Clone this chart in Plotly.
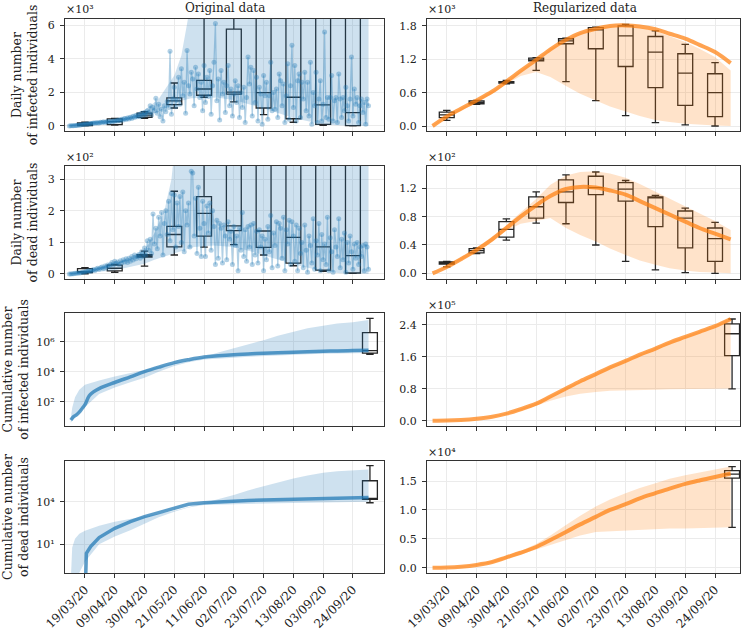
import pandas as pd
import plotly.graph_objects as go

# ---------------- data ----------------
start_date = "2020-03-08"
# daily infected (x10^3), one value per day from 08/03/20
daily_infected_k = [
    0.00, 0.01, 0.01, 0.02, 0.03, 0.03, 0.04,
    0.05, 0.06, 0.08, 0.09, 0.10, 0.11, 0.12,
    0.12, 0.15, 0.14, 0.17, 0.16, 0.19, 0.18,
    0.18, 0.22, 0.20, 0.25, 0.21, 0.24, 0.27,
    0.22, 0.28, 0.25, 0.30, 0.27, 0.33, 0.30,
    0.35, 0.30, 0.40, 0.36, 0.44, 0.38, 0.47,
    0.42, 0.52, 0.45, 0.58, 0.50, 0.62, 0.55,
    0.68, 0.55, 0.75, 0.62, 0.80, 0.65, 0.90,
    0.80, 1.20, 0.65, 1.10, 0.90, 1.65, 0.75,
    1.30, 0.55, 1.00, 0.30, 1.20, 0.85, 1.45,
    1.10, 4.45, 0.70, 1.60, 2.30, 1.15, 1.55,
    2.90, 1.30, 3.40, 1.80, 2.60, 0.75, 4.50,
    2.40, 1.90, 3.20, 2.80, 1.20, 3.50, 2.20,
    3.10, 1.70, 2.60, 0.90, 3.60, 1.40, 2.90,
    1.75, 3.30, 0.70, 2.40, 3.80, 6.10, 1.50,
    2.80, 0.35, 3.30, 1.90, 2.60, 0.80, 2.40,
    3.60, 1.20, 2.20, 0.60, 1.90, 2.70, 1.40,
    2.40, 0.50, 2.00, 1.10, 2.30, 0.20, 1.70,
    4.10, 2.50, 3.50, 0.60, 3.30, 1.40, 2.90,
    0.30, 2.30, 1.90, 0.10, 3.00, 1.80, 2.60,
    0.40, 1.80, 3.80, 0.90, 2.00, 1.00, 2.20,
    0.50, 3.10, 2.70, 1.20, 2.50, 0.20, 1.80,
    3.70, 0.40, 2.40, 4.80, 1.10, 3.60, 0.30,
    2.70, 3.10, 0.50, 2.60, 1.60, 3.20, 0.90,
    2.60, 0.60, 3.80, 0.10, 2.00, 1.20, 3.20,
    0.20, 1.60, 2.70, 0.30, 1.30, 5.60, 0.50,
    1.70, 0.40, 1.70, 3.00, 0.30, 1.50, 1.70,
    0.20, 3.10, 1.60, 0.50, 1.70, 0.90, 2.30,
    1.20, 0.30, 1.60, 4.10, 0.60, 2.20, 1.30,
    1.70, 0.20, 1.20, 1.60, 0.80, 1.40, 0.10,
    1.60, 1.20,
]
# daily dead (x10^2)
daily_dead_h = [
    0.00, 0.00, 0.01, 0.01, 0.02, 0.02, 0.03,
    0.03, 0.04, 0.05, 0.06, 0.06, 0.08, 0.09,
    0.10, 0.08, 0.12, 0.14, 0.11, 0.16, 0.18,
    0.15, 0.20, 0.22, 0.17, 0.25, 0.21, 0.28,
    0.24, 0.30, 0.36, 0.28, 0.40, 0.33, 0.38,
    0.30, 0.42, 0.35, 0.45, 0.38, 0.48, 0.36,
    0.50, 0.40, 0.55, 0.44, 0.60, 0.48, 0.55,
    0.62, 0.50, 0.70, 0.55, 0.82, 0.60, 1.05,
    0.75, 1.10, 0.65, 1.90, 0.95, 1.45, 0.80,
    1.80, 1.20, 1.95, 0.60, 1.60, 2.00, 1.25,
    2.30, 1.05, 2.55, 1.40, 2.50, 0.85, 2.25,
    1.50, 2.45, 1.00, 2.60, 0.70, 2.00, 1.55,
    2.25, 0.85, 3.25, 3.20, 1.20, 2.40, 0.65,
    2.75, 1.45, 0.55, 2.30, 1.60, 0.55, 2.15,
    1.30, 2.25, 0.75, 2.00, 1.50, 0.30, 1.70,
    0.50, 1.60, 1.45, 0.35, 1.55, 1.20, 0.45,
    1.65, 1.10, 1.35, 0.30, 1.50, 0.90, 1.20,
    0.10, 1.45, 0.75, 1.95, 0.55, 1.40, 0.40,
    1.50, 0.85, 1.55, 0.30, 1.60, 0.60, 1.35,
    0.35, 1.40, 0.85, 1.20, 0.10, 1.10, 0.45,
    1.50, 0.70, 1.85, 0.20, 1.30, 0.90, 1.65,
    0.25, 1.60, 1.45, 0.50, 1.80, 0.10, 1.40,
    0.95, 1.70, 0.30, 1.65, 1.20, 0.40, 1.55,
    0.10, 1.45, 0.65, 1.00, 0.20, 1.55, 0.75,
    0.05, 1.20, 0.90, 0.35, 1.75, 0.15, 1.05,
    0.60, 1.60, 0.10, 1.25, 0.45, 0.95, 0.30,
    1.80, 0.10, 1.15, 0.70, 0.05, 1.40, 0.85,
    0.55, 1.75, 0.20, 1.10, 0.45, 1.30, 0.05,
    1.00, 0.35, 1.20, 0.70, 0.15, 0.95, 0.50,
    1.00, 0.30, 0.85, 0.55, 0.90, 0.10, 0.95,
    0.85, 0.15,
]

# shaded bands of the original daily data
inf_band_dates = ["2020-03-08", "2020-03-19", "2020-04-01", "2020-04-09", "2020-04-20", "2020-04-30",
                  "2020-05-10", "2020-05-21", "2020-05-26", "2020-05-30", "2020-06-02", "2020-06-11",
                  "2020-06-21", "2020-07-02", "2020-07-23", "2020-08-13", "2020-09-03", "2020-09-24",
                  "2020-10-05"]
inf_band_hi = [0.05, 0.25, 0.35, 0.45, 0.65, 0.95, 1.6, 3.0, 4.2, 5.8, 7.5, 20, 20, 20, 20, 20, 20, 20, 20]
inf_band_lo = [0.0, 0.05, 0.12, 0.2, 0.35, 0.55, 0.85, 1.3, 1.5, 1.6, 1.65, 1.7, 1.68, 1.55, 1.05, 0.48,
               0.08, 0.0, 0.0]

dead_band_dates = ["2020-03-08", "2020-03-19", "2020-04-09", "2020-04-30", "2020-05-07", "2020-05-14",
                   "2020-05-19", "2020-05-21", "2020-06-04", "2020-06-18", "2020-07-02", "2020-07-17",
                   "2020-07-30", "2020-08-14", "2020-09-01", "2020-09-15", "2020-10-05"]
dead_band_hi = [0.02, 0.10, 0.30, 0.76, 1.3, 2.0, 3.0, 3.6, 10, 10, 10, 10, 10, 10, 10, 10, 10]
dead_band_lo = [0.0, 0.02, 0.12, 0.32, 0.45, 0.56, 0.63, 0.65, 0.85, 0.90, 0.85, 0.68, 0.50, 0.30, 0.10,
                0.02, 0.0]

# original cumulative data (counts)
cum_inf_dates = ["2020-03-09", "2020-03-11", "2020-03-13", "2020-03-15", "2020-03-17", "2020-03-19",
                 "2020-03-22", "2020-03-25", "2020-03-29", "2020-04-09", "2020-04-20", "2020-04-30",
                 "2020-05-10", "2020-05-21", "2020-05-31", "2020-06-11", "2020-06-21", "2020-07-02",
                 "2020-07-12", "2020-07-23", "2020-08-02", "2020-08-13", "2020-08-23", "2020-09-03",
                 "2020-09-13", "2020-09-24", "2020-10-05"]
cum_inf = [6, 10, 13, 20, 35, 63, 250, 450, 750, 1900, 4500, 1.0e4, 2.0e4, 4.0e4, 6.3e4, 9.5e4, 1.15e5,
           1.35e5, 1.5e5, 1.7e5, 1.85e5, 2.0e5, 2.15e5, 2.3e5, 2.4e5, 2.57e5, 2.7e5]

cum_dead_dates = ["2020-03-19", "2020-03-20", "2020-03-23", "2020-03-26", "2020-03-29", "2020-04-09",
                  "2020-04-20", "2020-04-30", "2020-05-10", "2020-05-21", "2020-05-31", "2020-06-11",
                  "2020-06-21", "2020-07-02", "2020-07-12", "2020-07-23", "2020-08-02", "2020-08-13",
                  "2020-08-23", "2020-09-03", "2020-09-13", "2020-09-24", "2020-10-05"]
cum_dead = [0.001, 2.3, 7, 15, 30, 135, 400, 890, 1700, 3500, 6600, 8500, 1.0e4, 1.12e4, 1.22e4, 1.32e4,
            1.4e4, 1.48e4, 1.57e4, 1.66e4, 1.76e4, 1.86e4, 1.95e4]

cum_band_dates = ["2020-03-09", "2020-03-10", "2020-03-12", "2020-03-15", "2020-03-19", "2020-03-29",
                  "2020-04-09", "2020-04-20", "2020-04-30", "2020-05-10", "2020-05-21", "2020-05-31",
                  "2020-06-11", "2020-06-21", "2020-07-02", "2020-07-12", "2020-07-23", "2020-08-02",
                  "2020-08-13", "2020-08-23", "2020-09-03", "2020-09-13", "2020-09-24", "2020-10-05"]
cum_inf_hi = [8, 40, 200, 630, 1350, 2600, 4700, 7900, 1.3e4, 2.1e4, 3.6e4, 6.0e4, 1.0e5, 1.9e5, 3.6e5,
              6.8e5, 1.26e6, 2.5e6, 4.7e6, 7.9e6, 1.17e7, 1.6e7, 1.95e7, 2.75e7]
cum_inf_lo = [4, 6, 10, 20, 47, 320, 890, 2000, 4000, 1.0e4, 2.4e4, 4.2e4, 6.6e4, 7.6e4, 8.5e4, 9.8e4,
              1.12e5, 1.23e5, 1.35e5, 1.45e5, 1.58e5, 1.66e5, 1.74e5, 1.78e5]
cum_dead_hi = [0.03, 6, 25, 56, 91, 200, 390, 600, 870, 1400, 2300, 4200, 7600, 1.5e4, 3.0e4, 6.3e4,
               1.26e5, 2.4e5, 4.4e5, 7.2e5, 1.1e6, 1.4e6, 1.7e6, 1.9e6]
cum_dead_lo = [0.001, 0.003, 0.01, 0.1, 0.6, 10, 35, 100, 270, 800, 2000, 4000, 5900, 6500, 6900, 7200,
               7600, 7900, 8300, 8700, 9100, 9500, 9800, 1.0e4]

# regularized data
reg_dates = ["2020-03-09", "2020-03-19", "2020-03-29", "2020-04-09", "2020-04-20", "2020-04-30",
             "2020-05-10", "2020-05-21", "2020-05-31", "2020-06-11", "2020-06-21", "2020-07-02",
             "2020-07-12", "2020-07-23", "2020-08-02", "2020-08-13", "2020-08-23", "2020-09-03",
             "2020-09-13", "2020-09-24", "2020-10-05"]
reg_inf = [0.00, 0.17, 0.31, 0.46, 0.62, 0.80, 0.99, 1.19, 1.38, 1.55, 1.67, 1.75, 1.80, 1.81, 1.79, 1.74,
           1.66, 1.57, 1.46, 1.33, 1.13]
reg_inf_hi = [0.01, 0.18, 0.32, 0.47, 0.63, 0.81, 1.00, 1.20, 1.39, 1.56, 1.68, 1.76, 1.80, 1.80, 1.77,
              1.71, 1.62, 1.51, 1.39, 1.24, 1.00]
reg_inf_lo = [0.00, 0.14, 0.28, 0.42, 0.58, 0.75, 0.90, 0.97, 0.88, 0.72, 0.58, 0.46, 0.35, 0.26, 0.18,
              0.11, 0.07, 0.04, 0.02, 0.01, 0.00]
reg_dead = [0.00, 0.09, 0.20, 0.33, 0.48, 0.64, 0.80, 0.96, 1.09, 1.19, 1.22, 1.21, 1.17, 1.11, 1.02, 0.92,
            0.83, 0.73, 0.64, 0.56, 0.48]
reg_dead_hi = [0.00, 0.10, 0.22, 0.36, 0.52, 0.68, 0.86, 1.05, 1.25, 1.38, 1.43, 1.44, 1.41, 1.35, 1.26,
               1.15, 1.05, 0.94, 0.84, 0.74, 0.61]
reg_dead_lo = [0.00, 0.08, 0.18, 0.30, 0.45, 0.60, 0.70, 0.74, 0.78, 0.64, 0.54, 0.45, 0.35, 0.26, 0.18,
               0.12, 0.07, 0.04, 0.02, 0.01, 0.00]
reg_cuminf = [0.00, 0.005, 0.02, 0.05, 0.10, 0.18, 0.29, 0.43, 0.61, 0.81, 0.99, 1.17, 1.34, 1.50, 1.66,
              1.81, 1.96, 2.10, 2.23, 2.37, 2.55]
reg_cuminf_hi = [0.00, 0.006, 0.022, 0.055, 0.11, 0.19, 0.30, 0.45, 0.63, 0.83, 1.01, 1.19, 1.36, 1.52,
                 1.68, 1.83, 1.98, 2.12, 2.25, 2.39, 2.58]
reg_cuminf_lo = [0.00, 0.004, 0.017, 0.045, 0.09, 0.16, 0.26, 0.38, 0.50, 0.61, 0.68, 0.72, 0.75, 0.76,
                 0.77, 0.78, 0.79, 0.79, 0.80, 0.80, 0.81]
reg_cumdead = [0.00, 0.005, 0.02, 0.05, 0.10, 0.18, 0.26, 0.36, 0.48, 0.62, 0.75, 0.88, 1.00, 1.10, 1.20,
               1.29, 1.37, 1.45, 1.51, 1.57, 1.63]
reg_cumdead_hi = [0.00, 0.006, 0.025, 0.06, 0.12, 0.20, 0.29, 0.41, 0.56, 0.74, 0.90, 1.06, 1.18, 1.29,
                  1.38, 1.46, 1.54, 1.60, 1.65, 1.70, 1.75]
reg_cumdead_lo = [0.00, 0.004, 0.015, 0.04, 0.08, 0.15, 0.22, 0.31, 0.40, 0.48, 0.56, 0.62, 0.64, 0.65,
                  0.66, 0.67, 0.68, 0.68, 0.69, 0.69, 0.70]

# box plots (one box every three weeks)
box_dates = ["2020-03-19", "2020-04-09", "2020-04-30", "2020-05-21", "2020-06-11", "2020-07-02",
             "2020-07-23", "2020-08-13", "2020-09-03", "2020-09-24"]
inf_box_lo = [0.00, 0.05, 0.45, 1.07, 1.71, 1.43, 0.67, 0.22, 0.04, 0.00]
inf_box_q1 = [0.02, 0.08, 0.52, 1.27, 1.83, 1.90, 1.07, 0.43, 0.10, 0.02]
inf_box_med = [0.10, 0.26, 0.65, 1.49, 2.20, 2.02, 1.98, 1.71, 1.25, 0.79]
inf_box_q3 = [0.18, 0.42, 0.77, 1.67, 2.72, 5.77, 9.0, 9.0, 9.0, 9.0]
inf_box_hi = [0.22, 0.45, 0.85, 2.56, 9.0, 12, 14, 14, 14, 14]

dead_box_lo = [0.00, 0.05, 0.25, 0.60, 0.85, 0.93, 0.60, 0.26, 0.08, 0.02]
dead_box_q1 = [0.04, 0.10, 0.53, 0.86, 1.20, 1.37, 0.84, 0.34, 0.12, 0.03]
dead_box_med = [0.07, 0.18, 0.57, 1.25, 1.92, 1.52, 1.36, 1.16, 0.86, 0.58]
dead_box_q3 = [0.17, 0.28, 0.61, 1.51, 2.45, 5, 5, 5, 5, 5]
dead_box_hi = [0.20, 0.30, 0.72, 2.62, 5, 7, 7, 7, 7, 7]

rinf_box_lo = [0.10, 0.39, 0.76, 1.00, 0.80, 0.455, 0.185, 0.06, 0.02, 0.00]
rinf_box_q1 = [0.15, 0.40, 0.77, 1.17, 1.48, 1.39, 1.07, 0.69, 0.37, 0.17]
rinf_box_med = [0.20, 0.42, 0.78, 1.19, 1.53, 1.73, 1.62, 1.33, 0.95, 0.60]
rinf_box_q3 = [0.25, 0.45, 0.80, 1.22, 1.57, 1.77, 1.80, 1.61, 1.30, 0.94]
rinf_box_hi = [0.28, 0.46, 0.82, 1.23, 1.58, 1.78, 1.83, 1.71, 1.47, 1.14]

rdead_box_lo = [0.09, 0.28, 0.47, 0.71, 0.70, 0.40, 0.17, 0.05, 0.01, 0.00]
rdead_box_q1 = [0.13, 0.29, 0.51, 0.78, 1.00, 1.11, 1.02, 0.66, 0.36, 0.17]
rdead_box_med = [0.145, 0.32, 0.62, 0.94, 1.15, 1.21, 1.19, 1.07, 0.78, 0.49]
rdead_box_q3 = [0.16, 0.35, 0.73, 1.08, 1.32, 1.37, 1.28, 1.08, 0.88, 0.64]
rdead_box_hi = [0.17, 0.36, 0.77, 1.15, 1.39, 1.43, 1.31, 1.10, 0.92, 0.72]

cum_box_date = ["2020-10-06"]
cum_inf_box = dict(lo=[1.44e5], q1=[1.7e5], med=[2.5e5], q3=[4.0e6], hi=[3.6e7])
cum_dead_box = dict(lo=[8.5e3], q1=[1.48e4], med=[1.7e4], q3=[3.0e5], hi=[3.5e6])
rcum_inf_box = dict(lo=[0.80], q1=[1.63], med=[2.18], q3=[2.43], hi=[2.55])
rcum_dead_box = dict(lo=[0.70], q1=[1.55], med=[1.62], q3=[1.68], hi=[1.75])

tick_dates = box_dates
tick_labels = ["19/03/20", "09/04/20", "30/04/20", "21/05/20", "11/06/20", "02/07/20", "23/07/20",
               "13/08/20", "03/09/20", "24/09/20"]

row_titles = ["Daily number<br>of infected individuals", "Daily number<br>of dead individuals",
              "Cumulative number<br>of infected individuals", "Cumulative number<br>of dead individuals"]

# ---------------- styling ----------------
W, H = 747, 632
FONT = "DejaVu Serif"
BLUE_PT = "rgba(31,119,180,0.35)"
BLUE_BAND = "rgba(31,119,180,0.22)"
BLUE_LINE = "rgba(31,119,180,0.72)"
OR_LINE = "rgba(255,127,14,0.72)"
OR_BAND = "rgba(255,127,14,0.22)"
BOX_C = "#262626"
BOX_W = 10.5 * 86400000

days = pd.date_range(start_date, periods=len(daily_infected_k), freq="D")
days_d = pd.date_range(start_date, periods=len(daily_dead_h), freq="D")

fig = go.Figure()


def ax(i):
    return "" if i == 1 else str(i)


def band(i, dates, hi, lo, color):
    fig.add_trace(go.Scatter(x=list(dates) + list(dates)[::-1], y=list(hi) + list(lo)[::-1],
                             fill="toself", fillcolor=color, line=dict(width=0), mode="lines",
                             hoverinfo="skip", xaxis="x" + ax(i), yaxis="y" + ax(i)))


def line(i, x, y, color, width, shape="linear", markers=False):
    fig.add_trace(go.Scatter(x=x, y=y, mode="lines+markers" if markers else "lines",
                             line=dict(color=color, width=width, shape=shape),
                             marker=dict(color=color, size=5),
                             xaxis="x" + ax(i), yaxis="y" + ax(i)))


def boxes(i, x, lo, q1, med, q3, hi):
    fig.add_trace(go.Box(x=x, lowerfence=lo, q1=q1, median=med, q3=q3, upperfence=hi,
                         width=BOX_W, whiskerwidth=0.5, fillcolor="rgba(0,0,0,0)",
                         line=dict(color=BOX_C, width=1.3), boxpoints=False,
                         xaxis="x" + ax(i), yaxis="y" + ax(i)))


# row 1
band(1, inf_band_dates, inf_band_hi, inf_band_lo, BLUE_BAND)
line(1, days, daily_infected_k, BLUE_PT, 1.3, markers=True)
boxes(1, box_dates, inf_box_lo, inf_box_q1, inf_box_med, inf_box_q3, inf_box_hi)
band(2, reg_dates, reg_inf_hi, reg_inf_lo, OR_BAND)
line(2, reg_dates, reg_inf, OR_LINE, 4, shape="spline")
boxes(2, box_dates, rinf_box_lo, rinf_box_q1, rinf_box_med, rinf_box_q3, rinf_box_hi)
# row 2
band(3, dead_band_dates, dead_band_hi, dead_band_lo, BLUE_BAND)
line(3, days_d, daily_dead_h, BLUE_PT, 1.3, markers=True)
boxes(3, box_dates, dead_box_lo, dead_box_q1, dead_box_med, dead_box_q3, dead_box_hi)
band(4, reg_dates, reg_dead_hi, reg_dead_lo, OR_BAND)
line(4, reg_dates, reg_dead, OR_LINE, 4, shape="spline")
boxes(4, box_dates, rdead_box_lo, rdead_box_q1, rdead_box_med, rdead_box_q3, rdead_box_hi)
# row 3
band(5, cum_band_dates, cum_inf_hi, cum_inf_lo, BLUE_BAND)
line(5, cum_inf_dates, cum_inf, BLUE_LINE, 3.5, shape="spline")
boxes(5, cum_box_date, **cum_inf_box)
band(6, reg_dates, reg_cuminf_hi, reg_cuminf_lo, OR_BAND)
line(6, reg_dates, reg_cuminf, OR_LINE, 4, shape="spline")
boxes(6, cum_box_date, **rcum_inf_box)
# row 4
band(7, cum_band_dates, cum_dead_hi, cum_dead_lo, BLUE_BAND)
line(7, cum_dead_dates, cum_dead, BLUE_LINE, 3.5)
boxes(7, cum_box_date, **cum_dead_box)
band(8, reg_dates, reg_cumdead_hi, reg_cumdead_lo, OR_BAND)
line(8, reg_dates, reg_cumdead, OR_LINE, 4, shape="spline")
boxes(8, cum_box_date, **rcum_dead_box)

# ---------------- axes ----------------
col_px = {1: (65, 384), 2: (427, 740)}
row_px = {1: (19, 131), 2: (166, 279), 3: (313, 426), 4: (461, 573)}
xr = {1: ["2020-03-04 22:00", "2020-10-15 22:00"], 2: ["2020-03-05 02:00", "2020-10-11 14:00"]}

yspec = {
    1: dict(range=[-0.3, 6.37], tickvals=[0, 2, 4, 6], tickformat="d"),
    2: dict(range=[-0.09, 1.925], tickvals=[0, 0.6, 1.2, 1.8], tickformat=".1f"),
    3: dict(range=[-0.16, 3.42], tickvals=[0, 1, 2, 3], tickformat="d"),
    4: dict(range=[-0.08, 1.515], tickvals=[0, 0.4, 0.8, 1.2], tickformat=".1f"),
    5: dict(type="log", range=[0.38, 7.91], tickvals=[1e2, 1e4, 1e6], ticktext=["10²", "10⁴", "10⁶"]),
    6: dict(range=[-0.13, 2.70], tickvals=[0, 0.8, 1.6, 2.4], tickformat=".1f"),
    7: dict(type="log", range=[-1.02, 6.87], tickvals=[1e1, 1e4], ticktext=["10¹", "10⁴"]),
    8: dict(range=[-0.09, 1.846], tickvals=[0, 0.5, 1.0, 1.5], tickformat=".1f"),
}

common = dict(showline=True, mirror=True, linecolor="#333333", linewidth=1.1, ticks="outside",
              ticklen=4, tickwidth=1, tickcolor="#333333", showgrid=True, gridcolor="#ebebeb",
              gridwidth=0.8, zeroline=False)
tickfont_y = dict(family=FONT, size=11, color="#222222")
tickfont_x = dict(family=FONT, size=12, color="#222222")
title_font = dict(family=FONT, size=12.5, color="#222222")

layout = {}
for r in range(1, 5):
    for c in (1, 2):
        i = (r - 1) * 2 + c
        x0, x1 = col_px[c]
        y0, y1 = row_px[r]
        layout["xaxis" + ax(i)] = dict(common, domain=[x0 / W, x1 / W], anchor="y" + ax(i), type="date",
                                       range=xr[c], tickmode="array", tickvals=tick_dates,
                                       ticktext=tick_labels, tickangle=-45, showticklabels=(r == 4),
                                       tickfont=tickfont_x)
        ydict = dict(common, domain=[1 - y1 / H, 1 - y0 / H], anchor="x" + ax(i),
                     tickmode="array", tickfont=tickfont_y, ticklabelstandoff=3, **yspec[i])
        if c == 1:
            ydict["title"] = dict(text=row_titles[r - 1], font=title_font, standoff=7)
        layout["yaxis" + ax(i)] = ydict

annotations = []


def txt(x, y, s, size, xanchor="center"):
    annotations.append(dict(x=x / W, y=1 - y / H, xref="paper", yref="paper", text=s, showarrow=False,
                            xanchor=xanchor, yanchor="middle",
                            font=dict(family=FONT, size=size, color="#222222")))


txt(224.5, 8, "Original data", 12)
txt(585, 8, "Regularized data", 12)
for (xx, yy, s) in [(64, 10, "×10³"), (64, 157, "×10²"), (426, 10, "×10³"),
                    (426, 157, "×10²"), (426, 305, "×10⁵"), (426, 452, "×10⁴")]:
    txt(xx, yy, s, 11, xanchor="left")

fig.update_layout(width=W, height=H, margin=dict(l=0, r=0, t=0, b=0, autoexpand=False), showlegend=False,
                  paper_bgcolor="white", plot_bgcolor="white", annotations=annotations, **layout)

fig.write_html("out.html", config={"displayModeBar": False},
               post_script="document.body.style.margin='0';document.body.style.overflow='hidden';")
